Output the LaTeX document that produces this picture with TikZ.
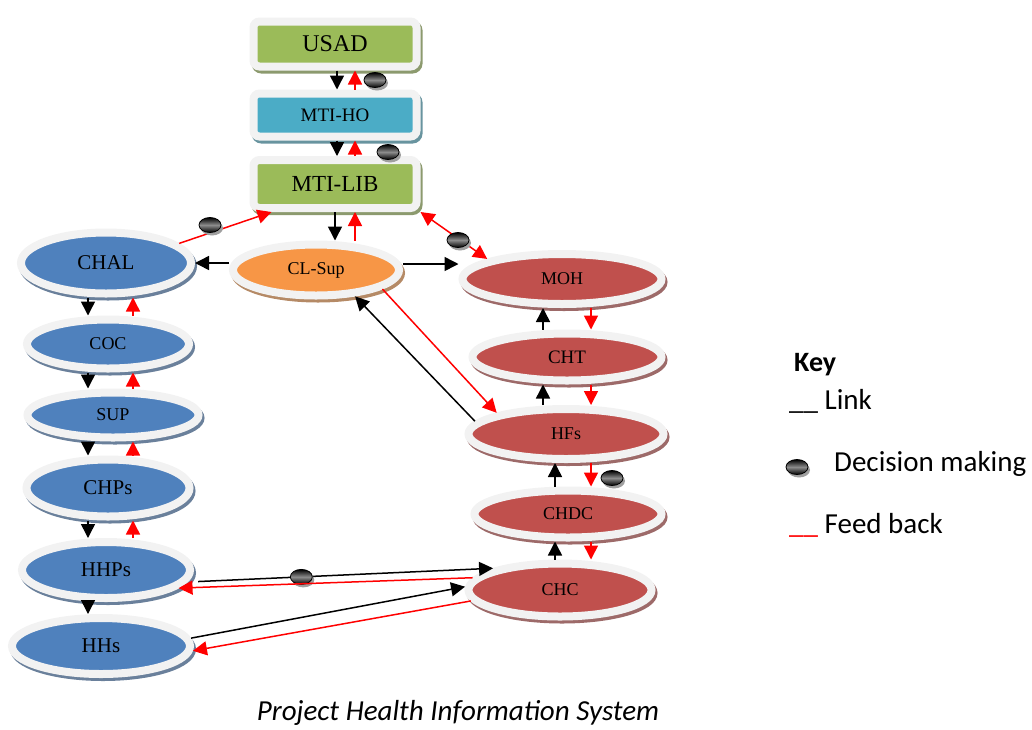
\documentclass[tikz,border=0pt]{standalone}
\usepackage{fontspec}
\setmainfont{Liberation Serif}
\newfontfamily\keyfont{Carlito}
\usepackage{xcolor}
\usepackage{tikz}
\usetikzlibrary{positioning, arrows.meta, calc, shapes.geometric}
\definecolor{ringgrey}{HTML}{F2F2F2}
\definecolor{boxgreen}{HTML}{9BBB59}
\definecolor{boxcyan}{HTML}{4BACC6}
\definecolor{ovalblue}{HTML}{4F81BD}
\definecolor{ovalorange}{HTML}{F79646}
\definecolor{ovalred}{HTML}{C0504D}
\definecolor{fbred}{HTML}{FF0000}

\tikzset{
  tierbox/.style={rectangle, rounded corners=6pt, fill=#1, draw=ringgrey, line width=8pt,
    minimum width=163pt, inner sep=0pt,
    preaction={draw=#1!45!gray, fill=#1!45!gray, line width=8pt, transform canvas={shift={(2pt,-3pt)}}}},
  tieroval/.style={ellipse, fill=#1, draw=ringgrey, line width=8pt, inner sep=0pt,
    font=\fontsize{18}{21}\selectfont,
    preaction={draw=#1!45!gray, fill=#1!45!gray, line width=8pt, transform canvas={shift={(2pt,-3pt)}}}},
  link/.style={draw=black, line width=1.5pt, -{Triangle[length=14pt,width=14pt]}},
  feedback/.style={draw=fbred, line width=1.5pt, -{Triangle[length=14pt,width=14pt]}},
  decision/.style={ellipse, minimum width=22pt, minimum height=15pt, inner sep=0pt, draw=black, line width=0.8pt,
    top color=black, bottom color=black, middle color=gray!90,
    preaction={fill=gray!75, transform canvas={shift={(2pt,-3pt)}}}},
  keytext/.style={anchor=west, inner sep=0pt, font=\keyfont\fontsize{29}{33}\selectfont}
}

\begin{document}
\begin{tikzpicture}[x=1pt, y=-1pt]
\useasboundingbox (0,0) rectangle (1032,729);

% top tiers
\node[tierbox=boxgreen, minimum height=45pt, font=\fontsize{24}{28}\selectfont] (usad) at (335,44) {USAD};
\node[tierbox=boxcyan, minimum height=43pt, font=\fontsize{19}{22}\selectfont] (mtiho) at (335,115) {MTI-HO};
\node[tierbox=boxgreen, minimum height=48pt, font=\fontsize{23}{26}\selectfont] (mtilib) at (335,184) {MTI-LIB};

% community side
\node[tieroval=ovalorange, minimum width=166pt, minimum height=51pt] (clsup) at (316,270) {CL-Sup};
\node[tieroval=ovalblue, minimum width=170pt, minimum height=61pt, font=\fontsize{21}{24}\selectfont] (chal) at (106,263) {CHAL};
\node[tieroval=ovalblue, minimum width=162pt, minimum height=49pt] (coc) at (108,344) {COC};
\node[tieroval=ovalblue, minimum width=171pt, minimum height=45pt] (sup) at (113,415) {SUP};
\node[tieroval=ovalblue, minimum width=163pt, minimum height=57pt, font=\fontsize{21}{24}\selectfont] (chps) at (108,488) {CHPs};
\node[tieroval=ovalblue, minimum width=168pt, minimum height=56pt, font=\fontsize{21}{24}\selectfont] (hhps) at (106,570) {HHPs};
\node[tieroval=ovalblue, minimum width=178pt, minimum height=56pt, font=\fontsize{21}{24}\selectfont] (hhs) at (101,646) {HHs};

% health side
\node[tieroval=ovalred, minimum width=199pt, minimum height=50pt] (moh) at (562,279) {MOH};
\node[tieroval=ovalred, minimum width=189pt, minimum height=47pt, font=\fontsize{19}{22}\selectfont] (cht) at (567,357) {CHT};
\node[tieroval=ovalred, minimum width=195pt, minimum height=50pt] (hfs) at (566,434) {HFs};
\node[tieroval=ovalred, minimum width=187pt, minimum height=47pt] (chdc) at (568,514) {CHDC};
\node[tieroval=ovalred, minimum width=183pt, minimum height=53pt] (chc) at (560,590) {CHC};

% arrow columns
\coordinate (leftdown) at (88,0);
\coordinate (leftup) at (133,0);
\coordinate (rightup) at (543,0);
\coordinate (rightupb) at (555,0);
\coordinate (rightdown) at (591,0);

% top links
\draw[link] ([xshift=2pt]usad.south) -- ([xshift=2pt]mtiho.north);
\draw[feedback] ([xshift=20pt]mtiho.north) -- ([xshift=20pt]usad.south);
\draw[link] ([xshift=2pt]mtiho.south) -- ([xshift=2pt]mtilib.north);
\draw[feedback] ([xshift=20pt]mtilib.north) -- ([xshift=20pt]mtiho.south);
\draw[link] (mtilib.south) -- (mtilib.south |- clsup.north);
\draw[feedback] ([xshift=39pt]clsup.north) -- ([xshift=20pt]mtilib.south);
\draw[feedback] (chal.15) -- ([xshift=22pt]mtilib.south west);
\draw[feedback, {Triangle[length=14pt,width=14pt]}-{Triangle[length=14pt,width=14pt]}] (mtilib.south east) -- (moh.165);
\node[decision] (decusad) at (375,80) {};
\node[decision] (decho) at (388,152) {};
\node[decision] (decchal) at (210,225) {};
\node[decision] (decmoh) at (458,240) {};

% CL-Sup links
\draw[link] (clsup.west |- chal.east) -- (chal.east);
\draw[link] ([yshift=6pt]clsup.east) -- ([yshift=6pt]clsup.east -| moh.west);
\draw[link] (hfs.172) -- (clsup.-34);
\draw[feedback] (clsup.-16) -- (hfs.163);

% left column
\foreach \a/\b in {chal/coc, coc/sup, sup/chps, chps/hhps} {
  \draw[link] (leftdown |- \a.south) -- (leftdown |- \b.north);
  \draw[feedback] (leftup |- \b.north) -- (leftup |- \a.south);
}
\draw[link] (leftdown |- hhps.south) -- (leftdown |- hhs.north);

% right column
\draw[link] (rightup |- cht.north) -- (rightup |- moh.south);
\draw[link] (rightup |- hfs.north) -- (rightup |- cht.south);
\draw[link] (rightupb |- chdc.north) -- (rightupb |- hfs.south);
\draw[link] (rightupb |- chc.north) -- (rightupb |- chdc.south);
\foreach \a/\b in {moh/cht, cht/hfs, hfs/chdc, chdc/chc}
  \draw[feedback] (rightdown |- \a.south) -- (rightdown |- \b.north);
\node[decision] (dechfs) at (612,478) {};

% across
\draw[link] ([xshift=10pt]hhps.-8) -- node[decision, pos=.35] (dechhps) {} (chc.162);
\draw[feedback] (chc.172) -- (hhps.-14);
\draw[link] (hhs.5) -- (chc.178);
\draw[feedback] (chc.187) -- (hhs.-3);

% key
\node[keytext, font=\keyfont\bfseries\fontsize{28}{32}\selectfont] (key) at (794,365) {Key};
\node[keytext] (keylink) at (789,401) {\_\_ Link};
\node[decision] (keydec) at (797,467) {};
\node[keytext] (keydectext) at (834,464) {Decision making};
\node[keytext] (keyfb) at (789,525) {\textcolor{fbred}{\_\_} Feed back};

\node[font=\keyfont\itshape\fontsize{29}{33}\selectfont] (caption) at (458,713) {Project Health Information System};
\end{tikzpicture}
\end{document}
